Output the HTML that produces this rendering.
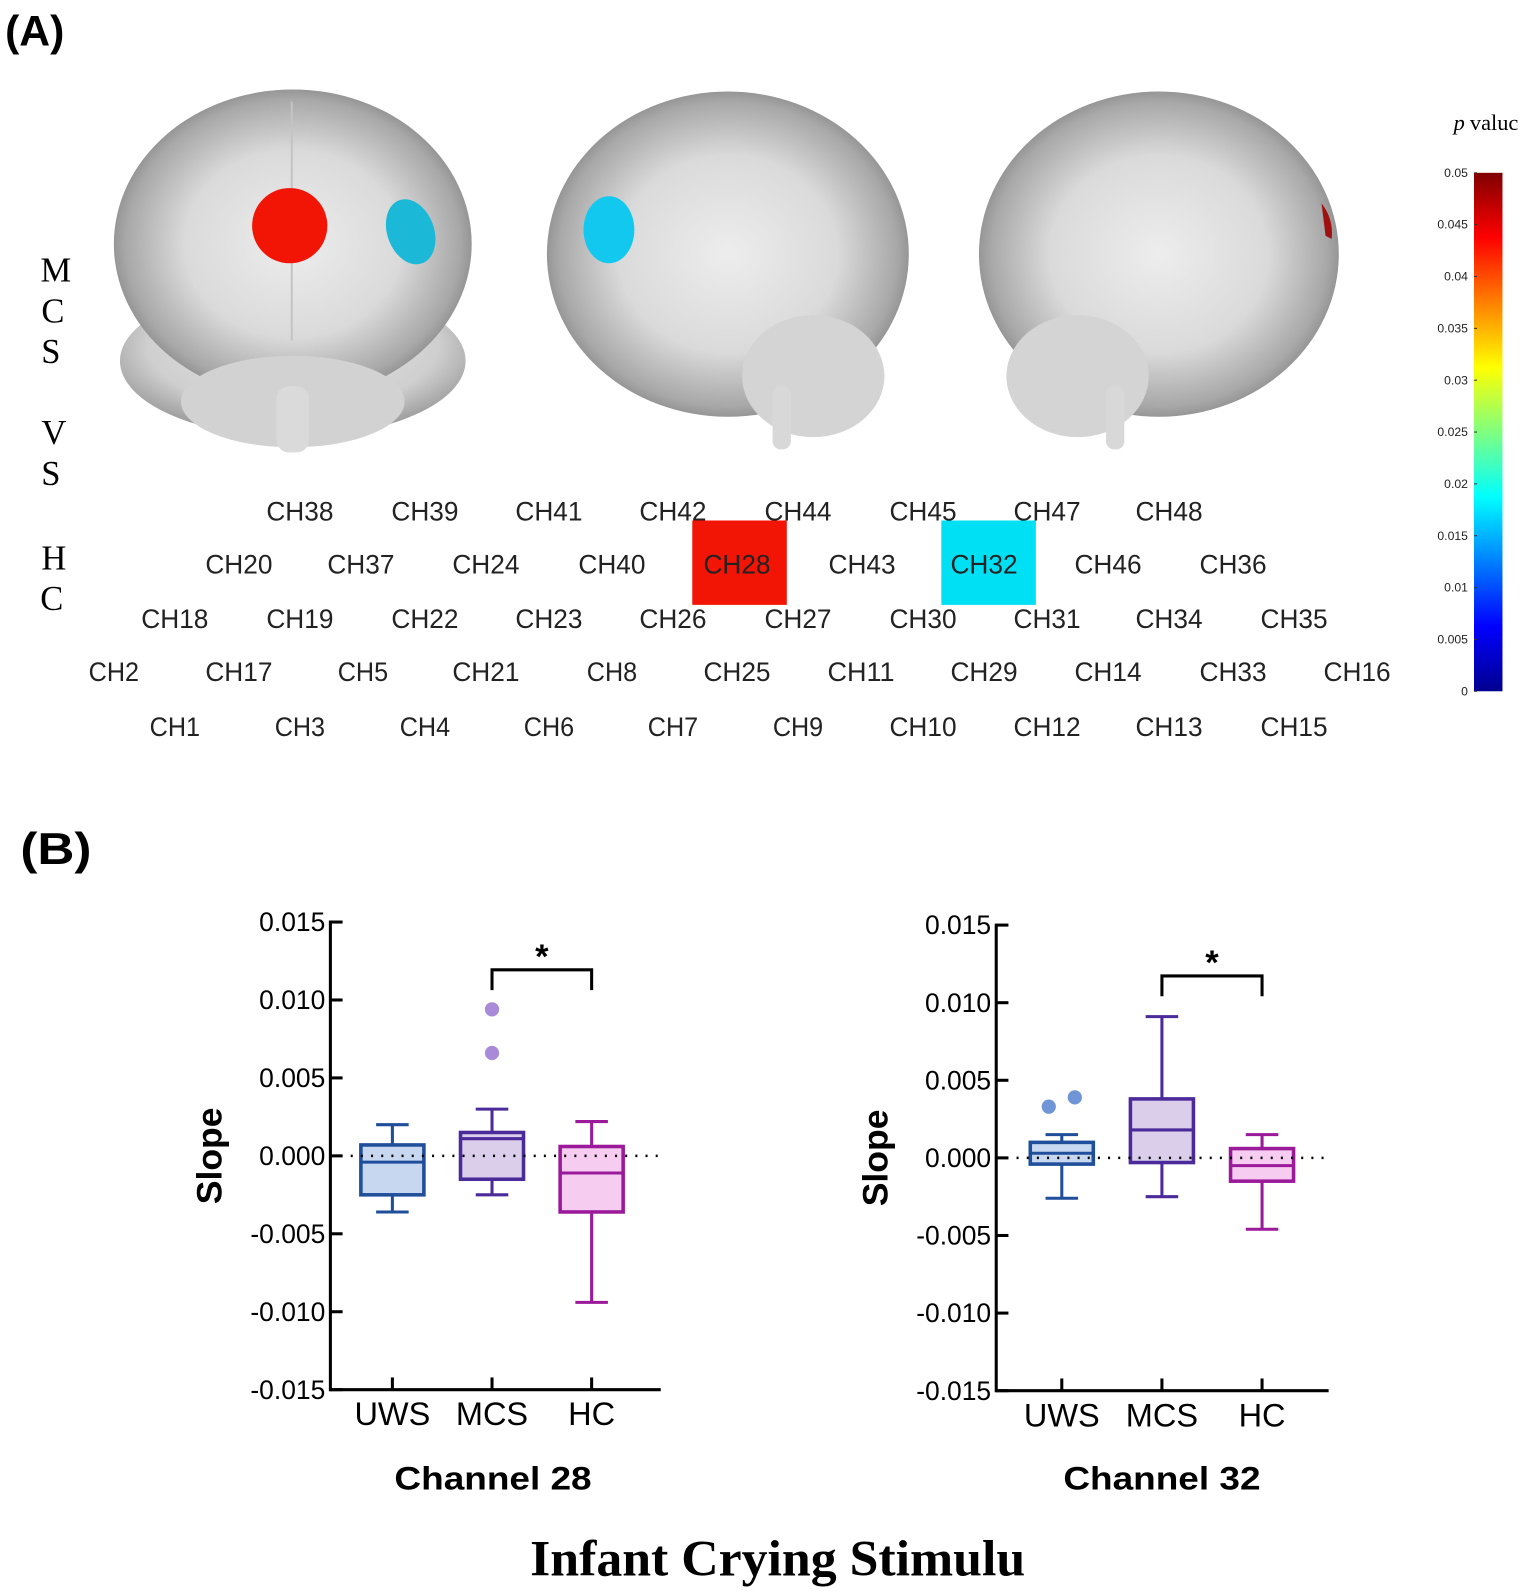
<!DOCTYPE html>
<html><head><meta charset="utf-8"><style>
html,body{margin:0;padding:0;background:#fff;}
svg{display:block;}
.ch{font-family:"Liberation Sans",sans-serif;font-size:26px;fill:#222;text-anchor:middle;}
.tk{font-family:"Liberation Sans",sans-serif;font-size:26px;fill:#000;text-anchor:end;}
.cat{font-family:"Liberation Sans",sans-serif;font-size:32px;fill:#000;text-anchor:middle;}
.cb{font-family:"Liberation Sans",sans-serif;font-size:12px;fill:#222;text-anchor:end;}
.side{font-family:"Liberation Serif",serif;font-size:34px;fill:#000;text-anchor:middle;}
</style></head><body>
<svg id="fig" width="1535" height="1594" viewBox="0 0 1510 1568" preserveAspectRatio="none" xmlns="http://www.w3.org/2000/svg">
<defs>
<radialGradient id="bg" cx="50%" cy="50%" r="55%">
<stop offset="0" stop-color="#ededed"/><stop offset="0.55" stop-color="#dadada"/><stop offset="0.85" stop-color="#a8a8a8"/><stop offset="1" stop-color="#7a7a7a"/>
</radialGradient>
<radialGradient id="bg2" cx="50%" cy="40%" r="60%">
<stop offset="0" stop-color="#e6e6e6"/><stop offset="0.7" stop-color="#cfcfcf"/><stop offset="1" stop-color="#999"/>
</radialGradient>
<linearGradient id="jet" x1="0" y1="1" x2="0" y2="0">
<stop offset="0" stop-color="#00008f"/><stop offset="0.125" stop-color="#0000ff"/><stop offset="0.375" stop-color="#00ffff"/><stop offset="0.625" stop-color="#ffff00"/><stop offset="0.875" stop-color="#ff0000"/><stop offset="1" stop-color="#800000"/>
</linearGradient>
</defs>

<text x="5" y="45" font-family="Liberation Sans, sans-serif" font-weight="bold" font-size="42">(A)</text>
<text x="20" y="850" font-family="Liberation Sans, sans-serif" font-weight="bold" font-size="44" textLength="70" lengthAdjust="spacingAndGlyphs">(B)</text>

<g>
<ellipse cx="288" cy="355" rx="170" ry="75" fill="url(#bg2)"/>
<ellipse cx="288" cy="240" rx="176" ry="152" fill="url(#bg)"/>
<ellipse cx="288" cy="395" rx="110" ry="45" fill="#d2d2d2"/>
<rect x="272" y="380" width="32" height="65" rx="12" fill="#dadada"/>
<path d="M287 100 L287 335" stroke="#c4c4c4" stroke-width="2"/>
<circle cx="285" cy="222" r="37" fill="#f21405"/>
<ellipse cx="404" cy="228" rx="23" ry="33" transform="rotate(-20 404 228)" fill="#1cb8d8"/>
</g>
<g>
<ellipse cx="716" cy="250" rx="178" ry="160" fill="url(#bg)"/>
<ellipse cx="800" cy="370" rx="70" ry="60" fill="#d4d4d4"/>
<rect x="760" y="380" width="18" height="62" rx="8" fill="#d8d8d8"/>
<ellipse cx="599" cy="226" rx="25" ry="33" fill="#13c8ef"/>
</g>
<g>
<ellipse cx="1140" cy="250" rx="177" ry="160" fill="url(#bg)"/>
<ellipse cx="1060" cy="370" rx="70" ry="60" fill="#d4d4d4"/>
<rect x="1088" y="380" width="18" height="62" rx="8" fill="#d8d8d8"/>
<path d="M1300 200 Q1312 215 1310 235 L1304 232 Z" fill="#a01010"/>
</g>

<g>
<text class="side" x="55" y="277">M</text><text class="side" x="52" y="317">C</text><text class="side" x="50" y="357">S</text>
<text class="side" x="53" y="437">V</text><text class="side" x="50" y="477">S</text>
<text class="side" x="53" y="560">H</text><text class="side" x="51" y="600">C</text>
</g>

<rect x="681" y="512" width="93" height="83" fill="#f21405"/>
<rect x="926" y="512" width="93" height="83" fill="#00e0f5"/>
<g id="channels"></g>

<g>
<text x="1430" y="128" font-family="Liberation Serif, serif" font-size="22" font-style="italic">p</text>
<text x="1446" y="128" font-family="Liberation Serif, serif" font-size="22">valuc</text>
<rect x="1450" y="170" width="28" height="510" fill="url(#jet)"/>
<g id="cbticks"></g>
</g>

<g id="chart1"></g>
<g id="chart2"></g>

<text x="485" y="1465" text-anchor="middle" textLength="194" lengthAdjust="spacingAndGlyphs" font-family="Liberation Sans, sans-serif" font-weight="bold" font-size="32">Channel 28</text>
<text x="1143" y="1465" text-anchor="middle" textLength="194" lengthAdjust="spacingAndGlyphs" font-family="Liberation Sans, sans-serif" font-weight="bold" font-size="32">Channel 32</text>
<text x="765" y="1550" text-anchor="middle" textLength="487" lengthAdjust="spacingAndGlyphs" font-family="Liberation Serif, serif" font-weight="bold" font-size="50">Infant Crying Stimulu</text>
</svg>
<script>
const NS="http://www.w3.org/2000/svg";
function mk(tag,attrs,parent){const e=document.createElementNS(NS,tag);for(const k in attrs)e.setAttribute(k,attrs[k]);parent.appendChild(e);return e;}

const chRows=[
 [["CH38",295],["CH39",418],["CH41",540],["CH42",662],["CH44",785],["CH45",908],["CH47",1030],["CH48",1150]],
 [["CH20",235],["CH37",355],["CH24",478],["CH40",602],["CH28",725],["CH43",848],["CH32",968],["CH46",1090],["CH36",1213]],
 [["CH18",172],["CH19",295],["CH22",418],["CH23",540],["CH26",662],["CH27",785],["CH30",908],["CH31",1030],["CH34",1150],["CH35",1273]],
 [["CH2",112],["CH17",235],["CH5",357],["CH21",478],["CH8",602],["CH25",725],["CH11",847],["CH29",968],["CH14",1090],["CH33",1213],["CH16",1335]],
 [["CH1",172],["CH3",295],["CH4",418],["CH6",540],["CH7",662],["CH9",785],["CH10",908],["CH12",1030],["CH13",1150],["CH15",1273]]];
const rowY=[512,564,618,670,724];
const chG=document.getElementById('channels');
chRows.forEach((r,i)=>r.forEach(([n,x])=>{const t=mk('text',{class:'ch',x:x,y:rowY[i],textLength:n.length*16.5,lengthAdjust:'spacingAndGlyphs'},chG);t.textContent=n;

}));

const cbTicks=["0","0.005","0.01","0.015","0.02","0.025","0.03","0.035","0.04","0.045","0.05"];
const cbG=document.getElementById('cbticks');
cbTicks.forEach((l,i)=>{const y=680-i*51;const t=mk('text',{class:'cb',x:1444,y:y+4},cbG);t.textContent=l;


mk('line',{x1:1450,x2:1453,y1:y,y2:y,stroke:'#333'},cbG);});

const categories=["UWS","MCS","HC"];
const yTicks=[0.015,0.010,0.005,0.000,-0.005,-0.010,-0.015];
const yTickLabels=["0.015","0.010","0.005","0.000","-0.005","-0.010","-0.015"];
const ch28Min=[-0.0036,-0.0025,-0.0094];
const ch28Q1=[-0.0025,-0.0015,-0.0036];
const ch28Med=[-0.0004,0.0011,-0.0011];
const ch28Q3=[0.0007,0.0015,0.0006];
const ch28Max=[0.0020,0.0030,0.0022];
const ch28Outliers=[[1,0.0094],[1,0.0066]];
const ch32Min=[-0.0026,-0.0025,-0.0046];
const ch32Q1=[-0.0004,-0.0003,-0.0015];
const ch32Med=[0.0003,0.0018,-0.0005];
const ch32Q3=[0.0010,0.0038,0.0006];
const ch32Max=[0.0015,0.0091,0.0015];
const ch32Outliers=[[0,0.0033,-0.13],[0,0.0039,0.13]];
const strokeCols=["#1f4e9a","#4b2a9a","#9a1a9a"];
const fillCols=["#bcd0ec","#d3c5e8","#f4c4ef"];
const outCols=["#6f95d6","#a98ad8","#d08ad0"];

function drawChart(g,cfg,mn,q1,md,q3,mx,outs){
 const y=v=>cfg.y0-v/0.015*(cfg.y0-cfg.yTop);
 const x=i=>cfg.x0+(i+1)*cfg.step;
 const bw=62;
 categories.forEach((c,i)=>{
  const cx=x(i);
  const s=strokeCols[i];
  mk('line',{x1:cx,x2:cx,y1:y(mx[i]),y2:y(q3[i]),stroke:s,'stroke-width':3},g);
  mk('line',{x1:cx,x2:cx,y1:y(q1[i]),y2:y(mn[i]),stroke:s,'stroke-width':3},g);
  mk('line',{x1:cx-16,x2:cx+16,y1:y(mx[i]),y2:y(mx[i]),stroke:s,'stroke-width':3},g);
  mk('line',{x1:cx-16,x2:cx+16,y1:y(mn[i]),y2:y(mn[i]),stroke:s,'stroke-width':3},g);
  const b=mk('rect',{x:cx-bw/2,y:y(q3[i]),width:bw,height:y(q1[i])-y(q3[i]),fill:fillCols[i],'fill-opacity':0.85,stroke:s,'stroke-width':3.5},g);
  
  
  mk('line',{x1:cx-bw/2,x2:cx+bw/2,y1:y(md[i]),y2:y(md[i]),stroke:s,'stroke-width':3},g);
  const t=mk('text',{class:'cat',x:cx,y:y(-0.015)+35},g);
  t.textContent=c;
  
  
  mk('line',{x1:cx,x2:cx,y1:y(-0.015),y2:y(-0.015)-12,stroke:'#000','stroke-width':3},g);
 });
 const z=mk('line',{x1:cfg.ax,x2:cfg.xEnd,y1:y(0),y2:y(0),stroke:'#000','stroke-width':2.5,'stroke-dasharray':'2 8'},g);
 
 
 outs.forEach(o=>{const c=mk('circle',{cx:x(o[0])+(o[2]||0)*cfg.step,cy:y(o[1]),r:7,fill:outCols[o[0]]},g);
  
  });
 mk('line',{x1:cfg.ax,x2:cfg.ax,y1:y(0.015)-1.5,y2:y(-0.015)+1.5,stroke:'#000','stroke-width':3},g);
 mk('line',{x1:cfg.ax,x2:cfg.xEnd,y1:y(-0.015),y2:y(-0.015),stroke:'#000','stroke-width':3},g);
 yTicks.forEach((v,i)=>{mk('line',{x1:cfg.ax,x2:cfg.ax+12,y1:y(v),y2:y(v),stroke:'#000','stroke-width':3},g);
  const t=mk('text',{class:'tk',x:cfg.ax-5,y:y(v)+9},g);t.textContent=yTickLabels[i];
  
  });
 const yl=mk('text',{x:cfg.ax-107,y:y(0),transform:`rotate(-90 ${cfg.ax-107} ${y(0)})`,'text-anchor':'middle','font-family':'Liberation Sans, sans-serif','font-weight':'bold','font-size':35},g);
 yl.textContent='Slope';
 
 
 const by=cfg.brY;
 mk('path',{d:`M${x(1)} ${by+20} L${x(1)} ${by} L${x(2)} ${by} L${x(2)} ${by+20}`,fill:'none',stroke:'#000','stroke-width':3},g);
 const st=mk('text',{x:(x(1)+x(2))/2,y:by-2,'text-anchor':'middle','font-family':'Liberation Sans, sans-serif','font-weight':'bold','font-size':34},g);
 st.textContent='*';
 
 
}
drawChart(document.getElementById('chart1'),{ax:325,xEnd:650,yTop:907,y0:1137,x0:288,step:98,brY:954},ch28Min,ch28Q1,ch28Med,ch28Q3,ch28Max,ch28Outliers);
drawChart(document.getElementById('chart2'),{ax:980,xEnd:1307,yTop:910,y0:1139,x0:946,step:98.5,brY:960},ch32Min,ch32Q1,ch32Med,ch32Q3,ch32Max,ch32Outliers);
</script>
</body></html>
